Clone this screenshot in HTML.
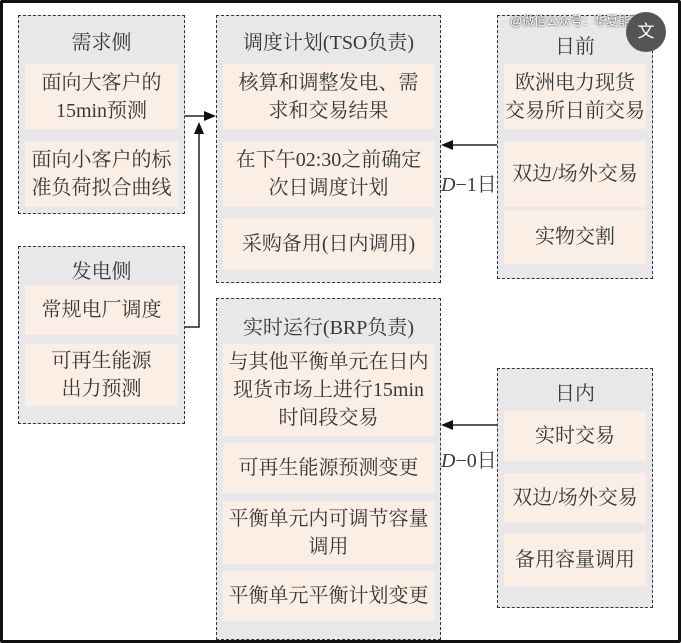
<!DOCTYPE html>
<html><head><meta charset="utf-8"><style>
html,body{margin:0;padding:0}
body{width:681px;height:643px;position:relative;background:#fff;overflow:hidden;font-family:"Liberation Serif","Noto Serif CJK SC",serif;color:#383838}
.frame{position:absolute;left:0;top:0;width:675px;height:637px;border:3px solid #111;border-radius:2px}
.box{position:absolute;background:#e8e8ea;border:1.5px dashed #333;box-sizing:border-box}
.h{position:absolute;left:0;right:0;text-align:center;font-size:20px}
.it{position:absolute;left:6px;right:6px;background:#fbeee4;display:flex;align-items:center;justify-content:center;text-align:center;font-size:20px;line-height:28px;white-space:nowrap}
.lbl{position:absolute;font-size:20px}
</style></head><body>
<div class="frame"></div>

<div class="box" style="left:18px;top:15px;width:167px;height:199px">
 <div class="h" style="top:10px">需求侧</div>
 <div class="it" style="top:48px;height:65px">面向大客户的<br>15min预测</div>
 <div class="it" style="top:125px;height:66px">面向小客户的标<br>准负荷拟合曲线</div>
</div>

<div class="box" style="left:18px;top:246px;width:167px;height:178px">
 <div class="h" style="top:8px">发电侧</div>
 <div class="it" style="top:38px;height:50px">常规电厂调度</div>
 <div class="it" style="top:97px;height:62px">可再生能源<br>出力预测</div>
</div>

<div class="box" style="left:216px;top:15px;width:225px;height:268px">
 <div class="h" style="top:10px">调度计划(TSO负责)</div>
 <div class="it" style="top:48px;height:65px">核算和调整发电、需<br>求和交易结果</div>
 <div class="it" style="top:125px;height:66px">在下午02:30之前确定<br>次日调度计划</div>
 <div class="it" style="top:202px;height:52px">采购备用(日内调用)</div>
</div>

<div class="box" style="left:216px;top:298px;width:225px;height:342px">
 <div class="h" style="top:12px">实时运行(BRP负责)</div>
 <div class="it" style="top:45px;height:92px">与其他平衡单元在日内<br>现货市场上进行15min<br>时间段交易</div>
 <div class="it" style="top:144px;height:50px">可再生能源预测变更</div>
 <div class="it" style="top:202px;height:63px">平衡单元内可调节容量<br>调用</div>
 <div class="it" style="top:272px;height:50px">平衡单元平衡计划变更</div>
</div>

<div class="box" style="left:497px;top:15px;width:156px;height:264px">
 <div class="h" style="top:14px">日前</div>
 <div class="it" style="top:48px;height:65px">欧洲电力现货<br>交易所日前交易</div>
 <div class="it" style="top:125px;height:66px">双边/场外交易</div>
 <div class="it" style="top:194px;height:54px">实物交割</div>
</div>

<div class="box" style="left:497px;top:368px;width:156px;height:240px">
 <div class="h" style="top:8px">日内</div>
 <div class="it" style="top:42px;height:50px">实时交易</div>
 <div class="it" style="top:104px;height:50px">双边/场外交易</div>
 <div class="it" style="top:164px;height:53px">备用容量调用</div>
</div>

<svg width="681" height="643" style="position:absolute;left:0;top:0" xmlns="http://www.w3.org/2000/svg">
 <g stroke="#222" stroke-width="1.5" fill="none">
  <line x1="185" y1="116" x2="206" y2="116"/>
  <polyline points="185,327 199,327 199,132"/>
  <line x1="497" y1="145" x2="452" y2="145"/>
  <line x1="497" y1="425" x2="452" y2="425"/>
 </g>
 <g fill="#111">
  <polygon points="216,116 204,111 204,121"/>
  <polygon points="199,122 194,134 204,134"/>
  <polygon points="441,145 453,140 453,150"/>
  <polygon points="441,425 453,420 453,430"/>
 </g>
</svg>
<div class="lbl" style="left:441px;top:168px"><i>D</i>−1日</div>
<div class="lbl" style="left:441px;top:444px"><i>D</i>−0日</div>

<div style="position:absolute;left:510px;top:12px;font-size:12px;color:#fff;font-family:'Liberation Sans','Noto Sans CJK SC',sans-serif;text-shadow:0 0 2px #000">@微信公众号：华夏能源网</div>
<div style="position:absolute;left:626px;top:12px;width:40px;height:40px;border-radius:50%;background:#555;color:#fff;font-size:17px;text-align:center;line-height:40px;font-family:'Liberation Sans','Noto Sans CJK SC',sans-serif">文</div>
</body></html>
